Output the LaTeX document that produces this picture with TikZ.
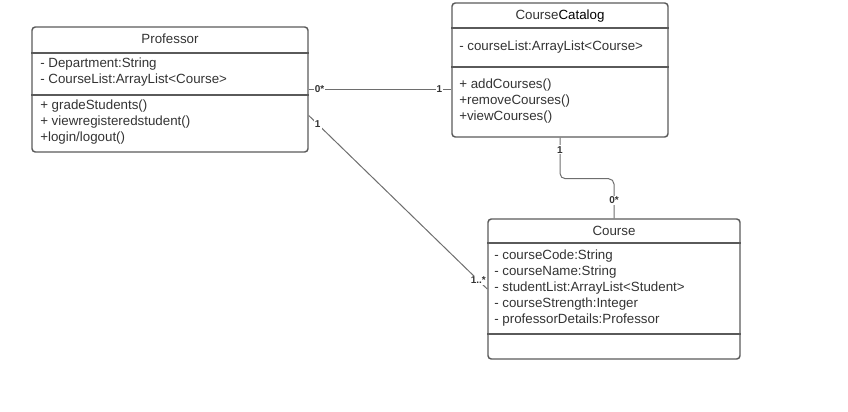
\documentclass[tikz,border=0pt]{standalone}
\usepackage{fontspec}
\setmainfont{Liberation Sans}
\usetikzlibrary{calc,positioning}
\definecolor{mgray}{HTML}{5A5A5A}
\definecolor{mtext}{HTML}{333333}
\definecolor{mline}{HTML}{6E6E6E}
\tikzstyle{cls}=[rectangle, draw=mgray, line width=1.1pt, rounded corners=2.5pt, inner sep=0pt]
\tikzstyle{l1}=[line width=0.9pt, draw=mgray]
\tikzstyle{l2}=[line width=0.75pt, draw=mline]
\tikzstyle{head}=[inner sep=0pt, text=mtext, font=\fontsize{10}{12}\selectfont]
\tikzstyle{members}=[anchor=west, align=left, inner sep=0pt, text=mtext, font=\fontsize{10}{12}\selectfont]
\tikzstyle{mult}=[fill=white, inner sep=0.8pt, text=mtext, font=\fontsize{7.5}{8}\selectfont\bfseries]

\begin{document}
\begin{tikzpicture}[x=0.75pt,y=-0.75pt]
    \useasboundingbox (0,0) rectangle (848,411);

    % classes
    \node[cls, minimum width=207pt, minimum height=93.75pt] (prof) at (170,89.5) {};
    \node[cls, minimum width=162pt, minimum height=100.5pt] (cat) at (560,70) {};
    \node[cls, minimum width=189pt, minimum height=105pt] (course) at (614,289) {};

    \draw[l1] (prof.west |- 0,53) -- (prof.east |- 0,53);
    \draw[l1] (prof.west |- 0,95) -- (prof.east |- 0,95);
    \draw[l1] (cat.west |- 0,28) -- (cat.east |- 0,28);
    \draw[l1] (cat.west |- 0,67) -- (cat.east |- 0,67);
    \draw[l1] (course.west |- 0,243) -- (course.east |- 0,243);
    \draw[l1] (course.west |- 0,334) -- (course.east |- 0,334);

    \node[head] (prof-name) at (170,39) {Professor};
    \node[members] (prof-attr) at (40,72) {- Department:String\\- CourseList:ArrayList<Course>};
    \node[members] (prof-ops) at (40,122) {+ gradeStudents()\\+ viewregisteredstudent()\\+login/logout()};

    \node[head] (cat-name) at (560,16) {Course\textcolor{black}{Catalog}};
    \node[members] (cat-attr) at (459,47) {- courseList:ArrayList<Course>};
    \node[members] (cat-ops) at (459,101) {+ addCourses()\\+removeCourses()\\+viewCourses()};

    \node[head] (course-name) at (614,231) {Course};
    \node[members] (course-attr) at (494,288) {- courseCode:String\\- courseName:String\\- studentList:ArrayList<Student>\\- courseStrength:Integer\\- professorDetails:Professor};

    % associations
    \draw[l2] (prof.east) -- (prof.east -| cat.west)
        node[mult, pos=0.076] {0*} node[mult, pos=0.917] {1};
    \draw[l2] ($(prof.east)+(0,26)$) -- (course.west)
        node[mult, pos=0.05] {1} node[mult, pos=0.95] {1..*};
    \draw[l2, rounded corners=4pt] (cat.south) -- ++(0,41) -| (course.north);
    \node[mult] at ($(cat.south)+(0,12)$) {1};
    \node[mult] at ($(course.north)+(0,-18)$) {0*};
\end{tikzpicture}
\end{document}
